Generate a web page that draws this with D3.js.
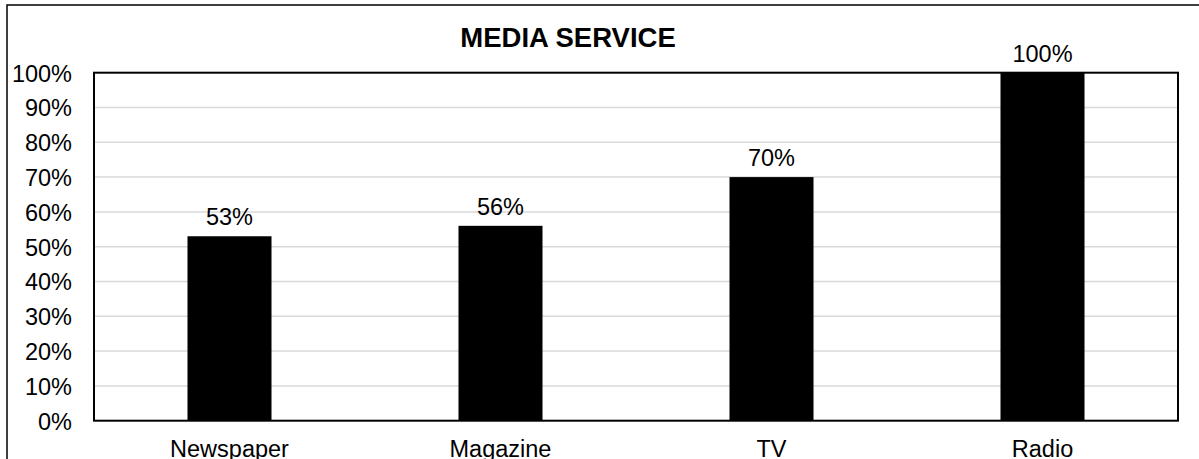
<!DOCTYPE html>
<html>
<head>
<meta charset="utf-8">
<script src="https://cdn.jsdelivr.net/npm/d3@7"></script>
<style>
  html, body { margin: 0; padding: 0; background: #fff; }
  svg { display: block; }
  text { font-family: Arial, "Liberation Sans", sans-serif; fill: #000; }
</style>
</head>
<body>
<svg id="chart" width="1199" height="459"></svg>
<script>
// Media service usage by channel
const categories = ["Newspaper", "Magazine", "TV", "Radio"];
const values = [53, 56, 70, 100];
const yTicks = [0, 10, 20, 30, 40, 50, 60, 70, 80, 90, 100];
const title = "MEDIA SERVICE";

const svg = d3.select("#chart");
const plot = { left: 94, right: 1178, top: 72.7, bottom: 420.7 };
const fontSize = 23.5;

// Outer chart frame (extends past the right and bottom edges)
svg.append("rect")
  .attr("x", 7).attr("y", 5)
  .attr("width", 1220).attr("height", 480)
  .attr("fill", "#fff").attr("stroke", "#000").attr("stroke-width", 1.5);

const x = d3.scaleBand()
  .domain(categories)
  .range([plot.left, plot.right])
  .paddingInner(0.69)
  .paddingOuter(0.345);

const y = d3.scaleLinear()
  .domain([0, 100])
  .range([plot.bottom, plot.top]);

// Horizontal gridlines
svg.append("g")
  .selectAll("line")
  .data(yTicks.filter(d => d > 0 && d < 100))
  .join("line")
  .attr("x1", plot.left).attr("x2", plot.right)
  .attr("y1", d => y(d)).attr("y2", d => y(d))
  .attr("stroke", "#d9d9d9").attr("stroke-width", 1.5);

// Y axis labels
const yAxis = d3.axisLeft(y)
  .tickValues(yTicks)
  .tickFormat(d => d + "%")
  .tickSize(0)
  .tickPadding(0);
const yg = svg.append("g")
  .attr("transform", `translate(${plot.left - 22},0)`)
  .call(yAxis);
yg.select(".domain").remove();
yg.selectAll("text")
  .attr("font-size", fontSize)
  .attr("font-family", "Arial, 'Liberation Sans', sans-serif")
  .attr("fill", "#000")
  .attr("dy", "0.36em");

// Bars
svg.append("g")
  .selectAll("rect")
  .data(values)
  .join("rect")
  .attr("x", (d, i) => x(categories[i]))
  .attr("width", x.bandwidth())
  .attr("y", d => y(d))
  .attr("height", d => y(0) - y(d))
  .attr("fill", "#000");

// Value labels above the bars
svg.append("g")
  .selectAll("text")
  .data(values)
  .join("text")
  .attr("x", (d, i) => x(categories[i]) + x.bandwidth() / 2)
  .attr("y", d => y(d) - 11)
  .attr("text-anchor", "middle")
  .attr("font-size", fontSize)
  .text(d => d + "%");

// Category labels
const xAxis = d3.axisBottom(x).tickSize(0).tickPadding(0);
const xg = svg.append("g")
  .attr("transform", `translate(0,${plot.bottom})`)
  .call(xAxis);
xg.select(".domain").remove();
xg.selectAll("text")
  .attr("font-size", fontSize)
  .attr("font-family", "Arial, 'Liberation Sans', sans-serif")
  .attr("fill", "#000")
  .attr("dy", null)
  .attr("y", 36);

// Plot area border
svg.append("rect")
  .attr("x", plot.left).attr("y", plot.top)
  .attr("width", plot.right - plot.left)
  .attr("height", plot.bottom - plot.top)
  .attr("fill", "none").attr("stroke", "#000").attr("stroke-width", 2);

// Title
svg.append("text")
  .attr("x", 568).attr("y", 46.5)
  .attr("text-anchor", "middle")
  .attr("font-size", 27.5)
  .attr("font-weight", "bold")
  .text(title);
</script>
</body>
</html>
